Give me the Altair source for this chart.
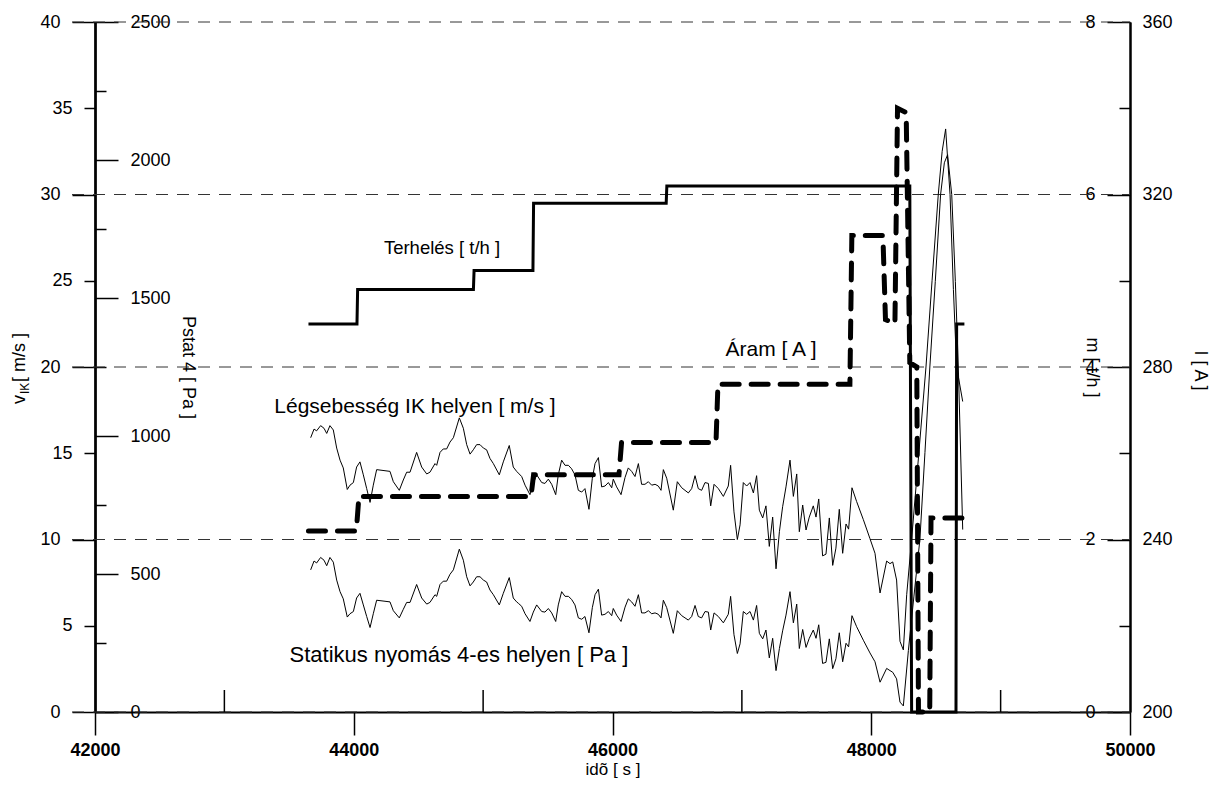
import altair as alt
import pandas as pd

FONT = "Liberation Sans"
W, H = 1035, 690

# shared sample times of the two measured (noisy) series
base_t = [43667, 43693, 43713, 43744, 43770, 43791, 43816, 43842, 43868, 43894, 43919, 43950, 43971, 43997,
          44022, 44048, 44074, 44100, 44126, 44151, 44177, 44280, 44306, 44352, 44383, 44409, 44435, 44486,
          44525, 44564, 44589, 44628, 44641, 44667, 44692, 44718, 44744, 44770, 44816, 44847, 44873, 44899,
          44924, 44950, 44976, 45002, 45027, 45053, 45079, 45125, 45156, 45202, 45233, 45259,
          45272, 45298, 45324, 45362, 45388, 45414, 45453, 45478, 45504, 45530, 45561, 45581, 45607, 45633,
          45659, 45684, 45710, 45736, 45762, 45787, 45818, 45844, 45865, 45891, 45916, 45942, 45968, 45994,
          46006, 46032, 46066, 46097, 46122, 46148, 46174, 46200, 46225, 46251, 46277, 46303, 46329, 46354, 46375,
          46393, 46419, 46470, 46501, 46535, 46586, 46612, 46638, 46663, 46689, 46715, 46741, 46759, 46785,
          46818, 46857, 46895, 46913, 46939, 46965, 46986, 47011, 47037, 47063, 47089, 47114, 47135, 47161,
          47186, 47212, 47238, 47264, 47290, 47315, 47341, 47372, 47398, 47424, 47444, 47470, 47496, 47521,
          47552, 47573, 47594, 47624, 47650, 47676, 47702, 47727, 47753, 47779, 47805, 47825, 47851, 47887,
          47939, 47990, 48029, 48068, 48119, 48145, 48166, 48196, 48222, 48248]

# Légsebesség IK helyen [m/s]
base_v = [15.9, 16.4, 16.3, 16.6, 16.45, 16.15, 16.6, 16.35, 15.3, 14.6, 14.15, 12.9, 13.15, 13.3,
          14.2, 14.5, 13.75, 12.95, 12.15, 13.15, 14.05, 13.95, 13.35, 12.85, 13.45, 13.9, 13.9, 15.05,
          14.2, 13.8, 13.9, 14.4, 14.3, 15.05, 15.25, 15.25, 15.65, 15.9, 17.05, 16.45, 15.5, 14.95,
          15.2, 15.5, 15.5, 15.3, 15.2, 14.7, 14.4, 13.75, 14.5, 15.45, 14.2, 13.95,
          13.85, 13.65, 13.15, 12.6, 13.25, 13.75, 13.3, 13.25, 13.5, 13.2, 12.6, 13.75, 14.6, 14.3,
          14.3, 14.1, 13.75, 12.85, 12.75, 12.95, 11.75, 13.55, 14.4, 14.75, 13.05, 13.1, 13.3, 13.0,
          13.5, 13.05, 12.6, 13.6, 14.15, 13.95, 13.65, 14.4, 13.2, 13.2, 13.35, 13.15, 13.2, 13.1, 12.85,
          14.05, 13.55, 11.7, 13.35, 13.0, 12.7, 12.95, 13.7, 12.95, 12.85, 13.3, 13.25, 11.95, 13.2,
          12.95, 12.5, 13.1, 14.3, 11.6, 10.0, 10.85, 13.3, 13.1, 13.3, 12.7, 13.7, 11.7, 11.25,
          11.95, 9.6, 11.3, 8.3, 10.45, 11.9, 13.05, 14.6, 12.5, 13.8, 10.45, 12.0, 10.55, 11.3,
          11.95, 11.3, 12.35, 9.05, 9.15, 11.25, 8.5, 9.5, 11.75, 9.2, 10.9, 10.6, 13.0, 12.2,
          11.15, 10.05, 9.2, 6.9, 8.75, 8.6, 8.7, 7.65, 4.1, 3.6]
v_end_t = [48274, 48312, 48370, 48423, 48470, 48518, 48548, 48575, 48609, 48635, 48660, 48707]
v_end = [6.8, 10.0, 15.2, 20.0, 25.0, 30.0, 32.5, 33.8, 30.0, 24.5, 20.0, 18.0]

# Statikus nyomás 4-es helyen [Pa]
base_p = [515, 547, 540, 560, 550, 530, 560, 543, 478, 436, 410, 344, 356, 364,
          413, 430, 388, 346, 306, 356, 405, 399, 367, 341, 372, 397, 397, 462,
          413, 391, 397, 425, 419, 462, 474, 474, 499, 515, 590, 550, 490, 457,
          471, 490, 490, 478, 471, 442, 425, 388, 430, 487, 413, 399,
          394, 383, 356, 328, 362, 388, 364, 362, 375, 359, 328, 388, 436, 419,
          419, 408, 388, 341, 336, 346, 287, 378, 425, 445, 351, 354, 364, 349,
          375, 351, 328, 380, 410, 399, 383, 425, 359, 359, 367, 356, 359, 354, 341,
          405, 378, 285, 367, 349, 333, 346, 386, 346, 341, 364, 362, 297, 359,
          346, 323, 354, 419, 280, 212, 247, 364, 354, 364, 333, 386, 285, 265,
          297, 196, 267, 150, 230, 294, 351, 436, 323, 391, 230, 299, 234, 267,
          297, 267, 316, 176, 180, 265, 157, 193, 287, 182, 249, 236, 349, 309,
          260, 214, 182, 108, 158, 150, 144, 120, 36, 22]
p_end_t = [48287, 48330, 48376, 48415, 48453, 48495, 48536, 48565, 48590, 48622, 48650, 48673, 48707]
p_end = [223, 420, 625, 940, 1250, 1560, 1875, 1990, 2019, 1875, 1560, 1250, 661]

# Terhelés [t/h]
load_t = [43650, 44025, 44030, 44925, 44930, 45385, 45390, 46415, 46420, 48298, 48312, 48655, 48660, 48720]
load_m = [4.5, 4.5, 4.9, 4.9, 5.12, 5.12, 5.9, 5.9, 6.1, 6.1, 0, 0, 4.5, 4.5]

# Áram [A]
cur_t = [43650, 44020, 44040, 45370, 45390, 46050, 46070, 46800, 46815, 47835, 47850, 48090, 48110,
         48183, 48203, 48270, 48298, 48352, 48365, 48452, 48462, 48710]
cur_i = [242, 242, 250, 250, 255, 255, 262.5, 262.5, 276, 276, 310.5, 310.5, 291,
         290, 340, 339, 281, 280, 200, 200, 245, 245]

grid_v = [0, 10, 20, 30, 40]
minor_v = [5, 15, 25, 35]
minor_x = [43000, 45000, 47000, 49000]

ann_text = ["Terhelés [ t/h ]", "Áram [ A ]", "Légsebesség IK helyen [ m/s ]",
            "Statikus nyomás 4-es helyen [ Pa ]"]
ann_t = [44682, 47225, 44473, 44813]
ann_v = [26.9, 21.0, 17.7, 3.3]

df_v = pd.DataFrame({"t": base_t + v_end_t, "v": base_v + v_end})
df_v["i"] = range(len(df_v))
df_p = pd.DataFrame({"t": base_t + p_end_t, "p": base_p + p_end})
df_p["i"] = range(len(df_p))
df_m = pd.DataFrame({"t": load_t, "m": load_m, "i": range(len(load_t))})
df_c = pd.DataFrame({"t": cur_t, "c": cur_i, "i": range(len(cur_t))})
df_g = pd.DataFrame({"v": grid_v})
df_mv = pd.DataFrame({"v": minor_v})
df_mx = pd.DataFrame({"t": minor_x})
df_a = pd.DataFrame({"t": ann_t, "v": ann_v, "txt": ann_text, "k": range(len(ann_t))})
df_one = pd.DataFrame({"k": [0]})

xscale = alt.Scale(domain=[42000, 50000], nice=False, zero=False)
xaxis = alt.Axis(values=[42000, 44000, 46000, 48000, 50000], format="d", tickSize=23,
                 tickColor="black", tickWidth=1.5, domainColor="black", domainWidth=2,
                 labelFont=FONT, labelFontSize=18, labelFontWeight="bold", labelColor="black",
                 labelPadding=6, labelFlush=False, labelOverlap=False, grid=False,
                 title="idõ [ s ]", titleFont=FONT, titleFontSize=17, titleFontWeight="normal",
                 titleColor="black", titlePadding=2)
X = alt.X("t:Q", scale=xscale, axis=xaxis)


def tick_len(mod):
    return {"condition": {"test": f"datum.value % {mod} === 0", "value": 23}, "value": 11}


common = dict(tickColor="black", tickWidth=1.5, domainColor="black", domainWidth=2,
              labelFont=FONT, labelFontSize=18, labelColor="black",
              labelFlush=False, labelOverlap=False, grid=False, format="d",
              titleFont=FONT, titleFontSize=18, titleFontWeight="normal", titleColor="black")

vscale = alt.Scale(domain=[0, 40], nice=False, zero=False)
vaxis_major = alt.Axis(orient="left", values=grid_v, tickSize=23, labelPadding=12, title=None, **common)
vaxis_minor = alt.Axis(orient="left", values=minor_v, tickSize=11, labelPadding=12, title=None, **common)

paxis = alt.Axis(orient="right", offset=-W, values=list(range(0, 2501, 250)), tickSize=tick_len(500),
                 labelPadding=12, labelExpr="datum.value % 500 === 0 ? datum.label : ''",
                 title="Pstat 4 [ Pa ]", titleAngle=90, titleX=87, titleY=H / 2,
                 titleAlign="center", titleBaseline="alphabetic", **common)
maxis = alt.Axis(orient="left", offset=-W, values=list(range(0, 9)), tickSize=tick_len(2),
                 labelPadding=12, labelExpr="datum.value % 2 === 0 ? datum.label : ''",
                 title="m [ t/h ]", titleAngle=90, titleX=-44, titleY=H / 2,
                 titleAlign="center", titleBaseline="alphabetic", **common)
iaxis = alt.Axis(orient="right", values=list(range(200, 361, 40)), ticks=False, labelPadding=12,
                 title="I [ A ]", titleAngle=90, titleX=64, titleY=H / 2 + 3,
                 titleAlign="center", titleBaseline="alphabetic", **common)

grid = alt.Chart(df_g).mark_rule(color="#333333", strokeWidth=1, strokeDash=[12, 9]).encode(
    x=alt.value(-23), x2=alt.value(W), y=alt.Y("v:Q", scale=vscale, axis=vaxis_major))

v_line = alt.Chart(df_v).mark_line(color="black", strokeWidth=1).encode(
    x=X, y=alt.Y("v:Q", scale=vscale, axis=vaxis_minor), order="i:Q")

Yv = alt.Y("v:Q", scale=vscale, axis=None)

ann_layers = []
for k, fs in enumerate([18.5, 21, 21, 22]):
    ann_layers.append(
        alt.Chart(df_a).transform_filter(f"datum.k === {k}").mark_text(
            font=FONT, fontSize=fs, color="black", align="center", baseline="middle"
        ).encode(x=X, y=Yv, text="txt:N")
    )

minor_ticks = alt.Chart(df_mx).mark_rule(color="black", strokeWidth=1.5).encode(
    x=X, y=alt.value(H - 22), y2=alt.value(H))

t_v = alt.Chart(df_one).mark_text(text="v", font=FONT, fontSize=18, angle=270, align="left",
                                  baseline="alphabetic", color="black").encode(
    x=alt.value(-70), y=alt.value(382))
t_ik = alt.Chart(df_one).mark_text(text="IK", font=FONT, fontSize=12, angle=270, align="left",
                                   baseline="alphabetic", color="black").encode(
    x=alt.value(-66), y=alt.value(372))
t_unit = alt.Chart(df_one).mark_text(text=" [ m/s ]", font=FONT, fontSize=18, angle=270, align="left",
                                     baseline="alphabetic", color="black").encode(
    x=alt.value(-70), y=alt.value(360))

v_group = alt.layer(grid, v_line, *ann_layers).resolve_axis(y="independent")

p_line = alt.Chart(df_p).mark_line(color="black", strokeWidth=1).encode(
    x=X, y=alt.Y("p:Q", scale=alt.Scale(domain=[0, 2500], nice=False, zero=False), axis=paxis),
    order="i:Q")

m_line = alt.Chart(df_m).mark_line(color="black", strokeWidth=3).encode(
    x=X, y=alt.Y("m:Q", scale=alt.Scale(domain=[0, 8], nice=False, zero=False), axis=maxis),
    order="i:Q")

c_line = alt.Chart(df_c).mark_line(color="black", strokeWidth=5, strokeDash=[17, 12],
                                   strokeCap="round").encode(
    x=X, y=alt.Y("c:Q", scale=alt.Scale(domain=[200, 360], nice=False, zero=False), axis=iaxis),
    order="i:Q")

chart = alt.layer(v_group, p_line, m_line, c_line, minor_ticks, t_v, t_ik, t_unit).resolve_scale(
    y="independent").properties(
    width=W, height=H,
    padding={"left": 87, "top": 14, "right": 81, "bottom": 67},
    autosize=alt.AutoSizeParams(type="none"),
    background="white",
).configure_view(stroke=None)

chart.save("out.html", embed_options={"renderer": "svg", "actions": False})
